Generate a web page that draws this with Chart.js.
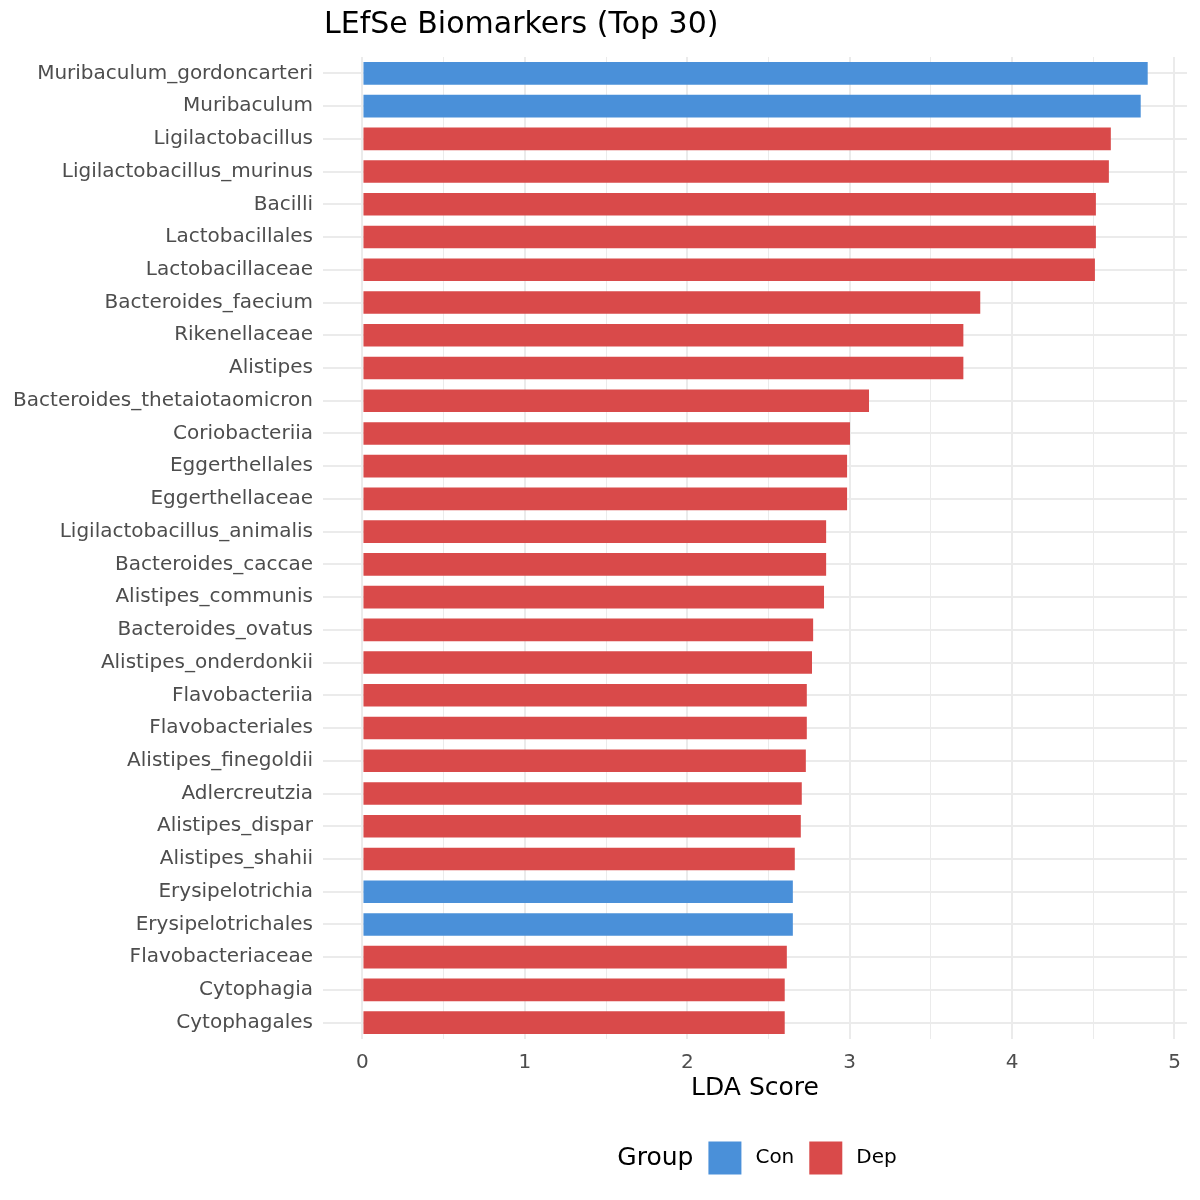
<!DOCTYPE html>
<html lang="en">
  <head>
    <meta charset="UTF-8" />
    <title>LEfSe Biomarkers (Top 30)</title>
    <script src="https://cdn.jsdelivr.net/npm/chart.js"></script>
    <style>
      html, body { margin: 0; padding: 0; background: #ffffff; }
      #wrap { width: 1200px; height: 1200px; }
    </style>
  </head>
  <body>
    <div id="wrap"><canvas id="lefseChart" width="1200" height="1200"></canvas></div>

    <script>
      // taxa, top to bottom
      const taxa = [
        "Muribaculum_gordoncarteri", "Muribaculum", "Ligilactobacillus",
        "Ligilactobacillus_murinus", "Bacilli", "Lactobacillales",
        "Lactobacillaceae", "Bacteroides_faecium", "Rikenellaceae",
        "Alistipes", "Bacteroides_thetaiotaomicron", "Coriobacteriia",
        "Eggerthellales", "Eggerthellaceae", "Ligilactobacillus_animalis",
        "Bacteroides_caccae", "Alistipes_communis", "Bacteroides_ovatus",
        "Alistipes_onderdonkii", "Flavobacteriia", "Flavobacteriales",
        "Alistipes_finegoldii", "Adlercreutzia", "Alistipes_dispar",
        "Alistipes_shahii", "Erysipelotrichia", "Erysipelotrichales",
        "Flavobacteriaceae", "Cytophagia", "Cytophagales"
      ];

      const ldaScores = [
        4.835, 4.792, 4.608, 4.596, 4.516, 4.516, 4.510, 3.804, 3.700, 3.700,
        3.119, 3.002, 2.984, 2.984, 2.855, 2.855, 2.842, 2.775, 2.768, 2.736,
        2.736, 2.730, 2.705, 2.699, 2.662, 2.650, 2.650, 2.613, 2.600, 2.600
      ];

      const groupOf = [
        "Con", "Con", "Dep", "Dep", "Dep", "Dep", "Dep", "Dep", "Dep", "Dep",
        "Dep", "Dep", "Dep", "Dep", "Dep", "Dep", "Dep", "Dep", "Dep", "Dep",
        "Dep", "Dep", "Dep", "Dep", "Dep", "Con", "Con", "Dep", "Dep", "Dep"
      ];

      const groups = ["Con", "Dep"];
      const groupColors = { Con: "#4A90D9", Dep: "#D94A4A" };

      const xTicks = [0, 0.5, 1, 1.5, 2, 2.5, 3, 3.5, 4, 4.5, 5];

      const FONT = "'DejaVu Sans', sans-serif";
      const GRID = "#EBEBEB";

      // title + inline "Group" legend, ggplot style
      const decorations = {
        id: "decorations",
        afterDraw(chart) {
          const { ctx, chartArea } = chart;
          ctx.save();
          ctx.fillStyle = "#000000";
          ctx.textBaseline = "middle";
          ctx.textAlign = "left";
          ctx.font = "30px " + FONT;
          ctx.fillText("LEfSe Biomarkers (Top 30)", chartArea.left + 1, 25);

          // legend
          const y = 1158;
          const key = 33;
          ctx.font = "25px " + FONT;
          const titleW = ctx.measureText("Group").width;
          ctx.font = "20px " + FONT;
          const labW = groups.map(g => ctx.measureText(g).width);
          const total = titleW + groups.reduce((s, g, i) => s + 15 + key + 14 + labW[i], 0);
          let x = (chartArea.left + chartArea.right) / 2 - total / 2 + 2;

          ctx.font = "25px " + FONT;
          ctx.fillText("Group", x, y);
          x += titleW;
          ctx.font = "20px " + FONT;
          groups.forEach((g, i) => {
            x += 15;
            ctx.fillStyle = groupColors[g];
            ctx.fillRect(x, y - key / 2, key, key);
            x += key + 14;
            ctx.fillStyle = "#000000";
            ctx.fillText(g, x, y);
            x += labW[i];
          });
          ctx.restore();
        }
      };

      const datasets = groups.map(g => ({
        label: g,
        data: ldaScores.map((v, i) => (groupOf[i] === g ? v : null)),
        backgroundColor: groupColors[g],
        borderWidth: 0,
        barPercentage: 0.69,
        categoryPercentage: 1.0
      }));

      const ctx = document.getElementById("lefseChart").getContext("2d");

      new Chart(ctx, {
        type: "bar",
        data: { labels: taxa, datasets },
        plugins: [decorations],
        options: {
          indexAxis: "y",
          responsive: false,
          animation: false,
          maintainAspectRatio: false,
          layout: { padding: { top: 57, right: 13, bottom: 80, left: 0 } },
          plugins: {
            legend: { display: false },
            title: { display: false },
            tooltip: { enabled: false }
          },
          scales: {
            x: {
              type: "linear",
              stacked: true,
              min: -0.243,
              max: 5.077,
              afterBuildTicks: scale => {
                scale.ticks = xTicks.map(v => ({ value: v }));
              },
              afterFit: scale => { scale.height = 81; },
              border: { display: false },
              grid: {
                color: GRID,
                drawTicks: false,
                lineWidth: c => (c.tick && Number.isInteger(c.tick.value) ? 2 : 1)
              },
              ticks: {
                padding: 12,
                color: "#4D4D4D",
                font: { family: FONT, size: 20 },
                callback: v => (Number.isInteger(v) ? String(v) : "")
              },
              title: {
                display: true,
                text: "LDA Score",
                color: "#000000",
                font: { family: FONT, size: 25 },
                padding: { top: 0, bottom: 17 }
              }
            },
            y: {
              stacked: true,
              offset: true,
              afterFit: scale => { scale.width = 323; },
              border: { display: false },
              grid: { color: GRID, lineWidth: 2, drawTicks: false, offset: false },
              ticks: {
                padding: 10,
                color: "#4D4D4D",
                font: { family: FONT, size: 20 },
                autoSkip: false
              }
            }
          }
        }
      });
    </script>
  </body>
</html>
